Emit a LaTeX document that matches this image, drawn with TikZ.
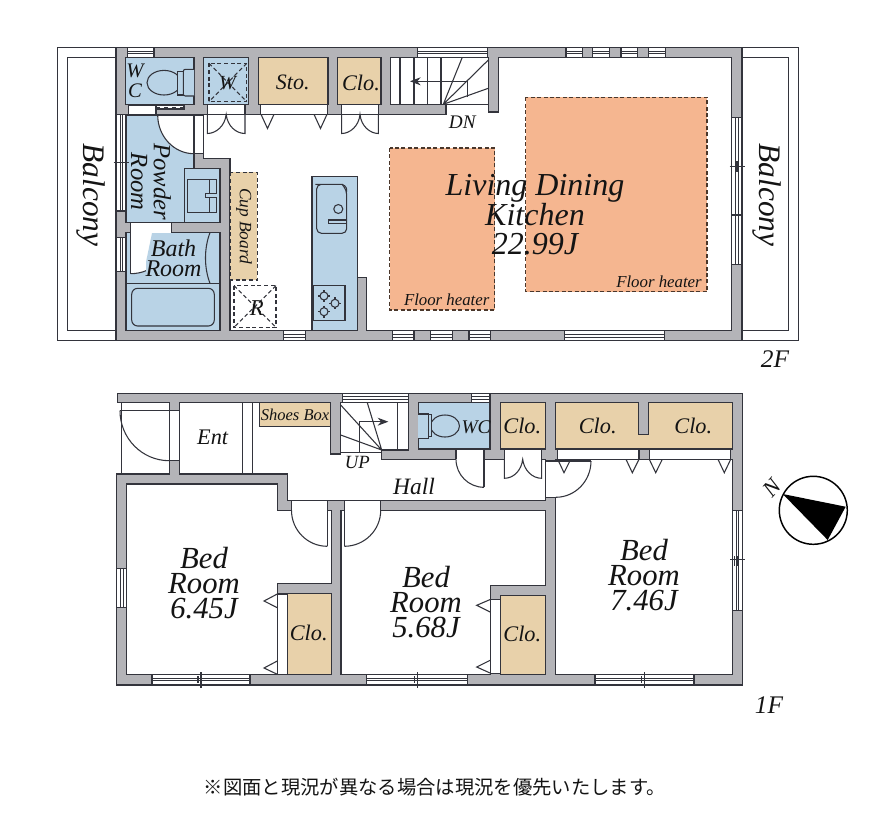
\documentclass[tikz,border=0pt]{standalone}
\usepackage{fontspec}
\setmainfont{Liberation Serif}
\newfontfamily\jpfont{Noto Sans CJK JP}
\usetikzlibrary{arrows.meta}
\definecolor{wallc}{HTML}{B4B4B8}
\definecolor{linec}{HTML}{33343C}
\definecolor{bluec}{HTML}{B9D3E6}
\definecolor{tanc}{HTML}{E8D1AA}
\definecolor{orangec}{HTML}{F5B690}
\newcommand\fsz[1]{\fontsize{#1}{#1}\selectfont\itshape}
\newcommand\fszl[2]{\fontsize{#1}{#2}\selectfont\itshape}
\tikzset{
  ln/.style={draw=linec,line width=0.8pt},
  thin ln/.style={draw=linec,line width=0.55pt},
  wall/.style={fill=wallc,draw=linec,line width=0.8pt},
  room/.style={fill=white,draw=linec,line width=0.8pt},
  wet/.style={fill=bluec,draw=linec,line width=0.9pt},
  store/.style={fill=tanc,draw=linec,line width=0.9pt},
  dashbox/.style={draw=linec,line width=0.8pt,dash pattern=on 3pt off 2pt},
  heat/.style={fill=orangec,draw=black!70!orangec,line width=0.8pt,dash pattern=on 3pt off 1.8pt},
  lbl/.style={inner sep=0pt,align=center,text=black!92},
}
\newcommand\hwin[4]{% x1 x2 y1 y2
  \pgfmathsetmacro\wm{(#3+#4)/2}
  \path[room] (#1,#3) rectangle (#2,#4);
  \draw[thin ln] (#1,\wm-1.2) -- (#2,\wm-1.2) (#1,\wm+1.2) -- (#2,\wm+1.2);}
\newcommand\vwin[4]{% x1 x2 y1 y2
  \pgfmathsetmacro\wm{(#1+#2)/2}
  \path[room] (#1,#3) rectangle (#2,#4);
  \draw[thin ln] (\wm-1.2,#3) -- (\wm-1.2,#4) (\wm+1.2,#3) -- (\wm+1.2,#4);}
% quarter arc from a to b about centre c
\newcommand\qarc[6]{%
  \pgfmathsetmacro\qax{#1+0.5523*(#3-#5)}
  \pgfmathsetmacro\qay{#2+0.5523*(#4-#6)}
  \pgfmathsetmacro\qbx{#3+0.5523*(#1-#5)}
  \pgfmathsetmacro\qby{#4+0.5523*(#2-#6)}
  \draw[ln] (#1,#2) .. controls (\qax,\qay) and (\qbx,\qby) .. (#3,#4);}
\newcommand\qsect[6]{%
  \pgfmathsetmacro\qax{#1+0.5523*(#3-#5)}
  \pgfmathsetmacro\qay{#2+0.5523*(#4-#6)}
  \pgfmathsetmacro\qbx{#3+0.5523*(#1-#5)}
  \pgfmathsetmacro\qby{#4+0.5523*(#2-#6)}
  \fill[white] (#5,#6) -- (#1,#2) .. controls (\qax,\qay) and (\qbx,\qby) .. (#3,#4) -- cycle;}
\begin{document}
\begin{tikzpicture}[x=0.75pt,y=-0.75pt]
\useasboundingbox (0,0) rectangle (876,825);
\fill[white] (0,0) rectangle (876,825);

%%%%%%%%%%%%%%%%%%%% 2F
% balconies
\draw[line width=0.9pt,draw=linec] (116,47.7) -- (57.5,47.7) -- (57.5,340.7) -- (116,340.7);
\draw[line width=0.8pt,draw=linec] (116,57.3) -- (67.5,57.3) -- (67.5,330.7) -- (116,330.7);
\draw[line width=0.9pt,draw=linec] (742,47.7) -- (798.3,47.7) -- (798.3,340.7) -- (742,340.7);
\draw[line width=0.8pt,draw=linec] (742,57.3) -- (788.3,57.3) -- (788.3,330.7) -- (742,330.7);
% house body
\path[wall] (116,47.7) rectangle (742,340.7);
% white living space
\path[room] (203.7,114.3) -- (446,114.3) -- (446,104.3) -- (488.3,104.3) -- (488.3,112) -- (498.3,112)
  -- (498.3,57.3) -- (731.7,57.3) -- (731.7,330.7) -- (366.7,330.7) -- (366.7,277.3) -- (357.3,277.3)
  -- (357.3,176.5) -- (312,176.5) -- (312,330.7) -- (230,330.7) -- (230,158.3) -- (203.7,158.3) -- cycle;
% kitchen counter
\path[wet] (312,176.5) rectangle (357.3,330.7);
\draw[ln,rounded corners=3.5pt] (342,184.3) -- (320,184.3) -- (316.7,184.3) -- (316.7,233.3) -- (346.7,233.3) -- (346.7,190) -- (342,184.3);
\draw[ln] (342,184.3) .. controls (346,186) and (347,188) .. (346.7,192);
\draw[ln] (338.3,209) circle (4.5);
\draw[ln] (338.3,220) -- (328.3,220) -- (328.3,223.3) -- (346.7,223.3);
\draw[ln] (346.7,220) -- (338.3,220);
\draw[line width=1pt,draw=linec] (313.3,285.7) rectangle (345,320.7);
\foreach \bx/\by in {324/296,335/303.3,324/311.7}{
  \draw[ln] (\bx,\by) circle (4);
  \draw[ln] (\bx-6,\by) -- (\bx-4,\by) (\bx+4,\by) -- (\bx+6,\by) (\bx,\by-6) -- (\bx,\by-4) (\bx,\by+4) -- (\bx,\by+6);
}
% floor heaters
\path[heat] (389.7,148) rectangle (494.7,310);
\path[heat] (525.7,97.3) rectangle (707,291.7);
% top rooms
\path[wet] (125.3,57.3) rectangle (194,104.3);
\path[wet] (203.7,57.3) rectangle (248.3,104.3);
\draw[dashbox] (209,63.3) rectangle (246.7,101.7);
\draw[dashbox] (209,63.3) -- (246.7,101.7) (246.7,63.3) -- (209,101.7);
\path[store] (258.3,57.3) rectangle (328,104.3);
\path[store] (337.3,57.3) rectangle (381,104.3);
\path[room] (390.7,57.3) rectangle (488.3,104.3);
% door openings under the top rooms
\path[room] (207.3,104.3) rectangle (245,114.3);
\path[room] (260.7,104.3) rectangle (327.3,114.3);
\path[room] (341.7,104.3) rectangle (378.3,114.3);
% toilet 2F
\draw[ln] (164,82.7) ellipse [x radius=17,y radius=12.3];
\path[ln,fill=bluec] (177.3,71.7) rectangle (183.3,95);
\path[ln,fill=bluec,rounded corners=1.5pt] (194,69.3) -- (183.3,69.3) -- (183.3,96) -- (194,96);
% sliding door under WC
\path[room] (128.3,105.7) rectangle (156,114.3);
\path[room] (156,105.7) rectangle (184,109);
\draw[thin ln,dashed] (156,107.3) -- (184,107.3);
% powder room
\path[wet] (126,115) rectangle (194,222.7);
\path[wet] (184.3,168.7) rectangle (220,222.7);
\draw[line width=1pt,draw=linec] (187.3,179.3) rectangle (216.7,212.3);
\draw[ln] (209.3,179.3) -- (209.3,212.3);
\path[ln,fill=bluec] (216.7,193.3) -- (205.7,193.3) -- (205.7,197.7) -- (216.7,197.7);
% powder door
\qsect{157.7}{115}{194}{153.7}{194}{115}
\qarc{157.7}{115}{194}{153.7}{194}{115}
\path[room] (194,114.5) rectangle (203.7,153.7);
\draw[ln] (126,115) -- (203.7,115);
% bath
\path[wet] (126,232.7) rectangle (220,330.7);
\draw[ln] (126,283.3) -- (220,283.3);
\path[ln,fill=none,rounded corners=4.5pt] (131.7,288.3) rectangle (214.3,326);
\draw[ln] (210,232.7) .. controls (204,248) and (204,268) .. (210,283.3);
\fill[white] (130.7,222.7) rectangle (171.7,232.9);
\qsect{171.7}{232.7}{130.7}{273.7}{130.7}{232.7}
\draw[ln] (130.7,222.7) -- (130.7,273.7) (171.7,222.7) -- (171.7,232.7);
\qarc{171.7}{232.7}{130.7}{273.7}{130.7}{232.7}
\fill[bluec] (152,233.2) -- (173,233.2) -- (173,281) -- (146,281) -- (146,262) -- cycle;
% kitchen side things
\path[dashbox,fill=tanc] (230,172.3) rectangle (257.3,280);
\draw[dashbox] (234,285.7) rectangle (276,327.3);
\draw[dashbox] (234,285.7) -- (276,327.3) (276,285.7) -- (234,327.3);
% closet doors 2F
\draw[ln] (207.3,114.3) -- (207.3,133.5) .. controls (216,133.5) and (225,126) .. (226.2,114.3)
  .. controls (227.4,126) and (236,133.5) .. (245,133.5) -- (245,114.3);
\draw[ln] (261,114.3) -- (267.5,128.5) -- (274,114.3);
\draw[ln] (314,114.3) -- (320.5,128.5) -- (327,114.3);
\draw[ln] (341.7,114.3) -- (341.7,133.5) .. controls (350,133.5) and (359,126) .. (360,114.3)
  .. controls (361,126) and (370,133.5) .. (378.3,133.5) -- (378.3,114.3);
% stairs 2F
\foreach \sx in {400,414,427.3,441}{\draw[ln] (\sx,57.3) -- (\sx,104.3);}
\coordinate (pivA) at (443.3,104.3);
\draw[ln] (pivA) -- (462.3,57.3) (pivA) -- (488.3,60) (pivA) -- (488.3,88.3);
\draw[ln] (467.7,97) -- (467.7,81.3);
\draw[ln,-{Stealth[length=8pt,width=6pt]}] (467.7,81.3) -- (410,81.3);
% windows 2F
\hwin{127.7}{154}{47.7}{57.3}
\hwin{417.7}{487.3}{47.7}{57.3}
\hwin{566}{582.7}{47.7}{57.3}
\hwin{592.3}{609.3}{47.7}{57.3}
\hwin{621}{637.7}{47.7}{57.3}
\hwin{648.3}{665.3}{47.7}{57.3}
\hwin{283.3}{305.7}{330.7}{340.7}
\hwin{392.3}{414}{330.7}{340.7}
\hwin{430.7}{452.3}{330.7}{340.7}
\hwin{469}{490.7}{330.7}{340.7}
\hwin{564.3}{664.3}{330.7}{340.7}
\vwin{116.7}{126}{114.5}{211}
\draw[ln] (113.5,162.3) -- (128.5,162.3);
\draw[ln] (120.3,157) -- (120.3,168);
\vwin{116.7}{126}{237.3}{271.7}
\vwin{731.7}{742}{117.3}{264.3}
\draw[ln] (729.5,166.7) -- (744.7,166.7) (731.7,215) -- (742,215);
\draw[ln] (737,161) -- (737,172);

% labels 2F
\node[lbl,rotate=-90,font=\fsz{23.5}] (balL) at (90.5,195) {Balcony};
\node[lbl,rotate=-90,font=\fsz{23.5}] (balR) at (766.5,195) {Balcony};
\node[lbl,font=\fszl{15.5}{15}] (lWC) at (135,81) {W\\C};
\node[lbl,font=\fsz{15}] (lW) at (227.5,83) {W};
\node[lbl,font=\fsz{16.5}] (lSto) at (292.7,82) {Sto.};
\node[lbl,font=\fsz{16.7}] (lClo) at (361,83) {Clo.};
\node[lbl,font=\fsz{14.4}] (lDN) at (462.3,122.7) {DN};
\node[lbl,rotate=-90,font=\fszl{18.5}{17}] (lPow) at (151,181.7) {Powder\\Room};
\node[lbl,font=\fszl{18}{15}] (lBath) at (173.5,258) {Bath\\Room};
\node[lbl,rotate=-90,font=\fsz{13}] (lCup) at (244,226) {Cup Board};
\node[lbl,font=\fsz{17}] (lR) at (256.7,307.7) {R};
\node[lbl,font=\fszl{24}{22.2}] (lLDK) at (535,215) {Living Dining\\Kitchen\\22.99J};
\node[lbl,font=\fsz{12.6}] (fhA) at (446.7,300) {Floor heater};
\node[lbl,font=\fsz{12.6}] (fhB) at (659,281.7) {Floor heater};
\node[lbl,font=\fsz{19}] (l2F) at (775,359) {2F};

%%%%%%%%%%%%%%%%%%%% 1F
\path[wall] (117.3,393.3) -- (742.7,393.3) -- (742.7,685) -- (116.7,685) -- (116.7,474) -- (169.3,474) -- (169.3,402.7) -- (117.3,402.7) -- cycle;
% porch
\draw[ln] (121.7,402.7) -- (121.7,474);
\path[room] (169.3,410.7) rectangle (179.7,460.7);
\draw[ln] (120,410.7) -- (169.3,410.7);
\qarc{120}{410.7}{169.3}{460.7}{169.3}{410.7}
\draw[ln] (169.3,460.7) -- (179.7,460.7);
% hall
\path[room] (179.3,402.7) -- (330.7,402.7) -- (330.7,454) -- (340.7,454) -- (340.7,402.7) -- (408.3,402.7) -- (408.3,450)
  -- (381.7,450) -- (381.7,459.3) -- (545.3,459.3) -- (545.3,500.7) -- (287.3,500.7) -- (287.3,474) -- (179.3,474) -- cycle;
\draw[ln] (242.3,402.7) -- (242.3,474) (252.3,402.7) -- (252.3,474);
\path[store] (259.3,402.7) rectangle (330.7,426.3);
% stairs 1F
\coordinate (pivB) at (381.7,450);
\draw[ln] (340.7,452.7) -- (381.7,452.7);
\draw[ln] (pivB) -- (340.7,405) (pivB) -- (340.7,435) (pivB) -- (367.3,402.7);
\draw[ln] (397.3,402.7) -- (397.3,450);
\draw[ln,-{Stealth[length=8pt,width=6pt]}] (359.3,452) -- (359.3,421.7) -- (388.3,421.7);
% WC 1F
\path[wet] (418.3,402.7) rectangle (490,449);
\draw[ln] (445,426) ellipse [x radius=14.5,y radius=11];
\path[ln,fill=bluec] (428.3,414.3) rectangle (431.7,436.7);
\path[ln,fill=bluec] (418.3,414) -- (428.3,414) -- (428.3,438.3) -- (418.3,438.3);
% closets 1F top
\path[store] (500.7,402.7) rectangle (545.3,449);
\path[store] (555.7,402.7) -- (638.7,402.7) -- (638.7,434.3) -- (648.7,434.3) -- (648.7,402.7) -- (732.3,402.7) -- (732.3,449) -- (555.7,449) -- cycle;
% bedrooms
\path[room] (555.7,459.3) rectangle (732.3,674.3);
\path[room] (126.7,484) -- (277.3,484) -- (277.3,510.3) -- (331.3,510.3) -- (331.3,583.3) -- (277.3,583.3) -- (277.3,674.3) -- (126.7,674.3) -- cycle;
\path[room] (341,510.3) -- (545.3,510.3) -- (545.3,585.7) -- (490.7,585.7) -- (490.7,674.3) -- (341,674.3) -- cycle;
% closets in bedrooms
\path[room] (277.3,594) rectangle (287.7,674.3);
\path[store] (287.7,593.3) rectangle (331.3,674.3);
\path[room] (490.7,599.3) rectangle (500.7,673.3);
\path[store] (500.7,595.7) rectangle (545.3,674.3);
\draw[ln] (277.3,594) -- (264,601) -- (277.3,607.7);
\draw[ln] (277.3,661) -- (264,668) -- (277.3,674.3);
\draw[ln] (490.7,599.3) -- (476.7,605.3) -- (490.7,612.3);
\draw[ln] (490.7,660) -- (476.7,667) -- (490.7,673.3);
% openings & doors
\path[room] (456,449) rectangle (484,459.3);
\fill[white] (456.3,459) rectangle (483.7,459.8);
\draw[ln] (484,459.3) -- (484,487.3);
\qarc{456}{459.3}{484}{487.3}{484}{459.3}
\path[room] (504.3,449) rectangle (541.7,459.3);
\fill[white] (504.6,459) rectangle (541.4,459.7);
\draw[ln] (504.3,459.3) -- (504.3,478.3) .. controls (514,478.3) and (521.5,470) .. (522.7,459.3)
  .. controls (524,470) and (532,478.3) .. (541.7,478.3) -- (541.7,459.3);
\path[room] (557.7,449) rectangle (639,459.3);
\path[room] (649.3,449) rectangle (730.7,459.3);
\draw[ln] (557.7,459.3) -- (564,472.7) -- (570.7,459.3);
\draw[ln] (626,459.3) -- (632.3,472.7) -- (639,459.3);
\draw[ln] (649.3,459.3) -- (655.7,472.7) -- (662.3,459.3);
\draw[ln] (718,459.3) -- (724.3,472.7) -- (730.7,459.3);
% right bedroom door
\fill[white] (545.6,459.5) rectangle (556,497.3);
\draw[ln] (545.3,461) -- (591,461);
\draw[ln] (545.3,497.3) -- (555.7,497.3);
\draw[ln] (555.7,461) -- (555.7,459.3);
\qarc{591}{461}{555.7}{497.3}{555.7}{461}
% bedroom doors
\path[room] (291.7,500.7) rectangle (327.3,510.5);
\fill[white] (292,510) rectangle (327,510.8);
\draw[ln] (327.3,500.7) -- (327.3,546.3);
\qarc{291.5}{510.3}{327.3}{546.3}{327.3}{510.3}
\path[room] (344.3,500.7) rectangle (380.7,510.5);
\fill[white] (344.6,510) rectangle (380.4,510.8);
\draw[ln] (344.3,500.7) -- (344.3,546.3);
\qarc{380.7}{510.3}{344.3}{546.3}{344.3}{510.3}
% windows 1F
\hwin{342.3}{408.3}{393.3}{402.7}
\hwin{471.7}{490}{393.3}{402.7}
\vwin{116.7}{126.7}{568.3}{607.7}
\hwin{152}{250}{674.3}{685}
\draw[ln] (201,672) -- (201,688) (198,676) -- (198,683);
\hwin{366.7}{467.7}{674.3}{685}
\draw[ln] (417.3,672) -- (417.3,688) (414.3,676) -- (414.3,683);
\hwin{595}{694}{674.3}{685}
\draw[ln] (644.3,672) -- (644.3,688) (641.3,676) -- (641.3,683);
\vwin{732.3}{742.7}{510.3}{610.3}
\draw[ln] (730,559.7) -- (745,559.7) (737.5,556) -- (737.5,566) (734.5,556) -- (734.5,566);
% compass
\draw[line width=1.1pt] (813.3,510.3) circle (34);
\fill[black] (782.7,494) -- (845.7,506.7) -- (827.7,540) -- cycle;
\node[lbl,rotate=48,font=\fsz{17}] (lN) at (771.7,488.3) {N};

% labels 1F
\node[lbl,font=\fsz{12.4}] (lShoes) at (295,415) {Shoes Box};
\node[lbl,font=\fsz{16.7}] (lEnt) at (212.7,437.3) {Ent};
\node[lbl,font=\fsz{14}] (lUP) at (357.3,462.3) {UP};
\node[lbl,font=\fsz{17.6}] (lHall) at (414,486) {Hall};
\node[lbl,font=\fsz{14.5}] (lWCb) at (476,427.3) {WC};
\node[lbl,font=\fsz{16.7}] (c1) at (522.3,425.7) {Clo.};
\node[lbl,font=\fsz{16.7}] (c2) at (597.7,425.7) {Clo.};
\node[lbl,font=\fsz{16.7}] (c3) at (693.3,425.7) {Clo.};
\node[lbl,font=\fsz{16.7}] (c4) at (308.7,633.3) {Clo.};
\node[lbl,font=\fsz{16.7}] (c5) at (522.3,634) {Clo.};
\node[lbl,font=\fszl{23}{18.7}] (bedA) at (204,583) {Bed\\Room\\6.45J};
\node[lbl,font=\fszl{23}{18.7}] (bedB) at (426,602) {Bed\\Room\\5.68J};
\node[lbl,font=\fszl{23}{18.7}] (bedC) at (644,575) {Bed\\Room\\7.46J};
\node[lbl,font=\fsz{19}] (l1F) at (769,705) {1F};

% note
\node[lbl,font={\jpfont\fontsize{14.5}{14.5}\selectfont}] (note) at (435,787.5) {※図面と現況が異なる場合は現況を優先いたします。};
\end{tikzpicture}
\end{document}
